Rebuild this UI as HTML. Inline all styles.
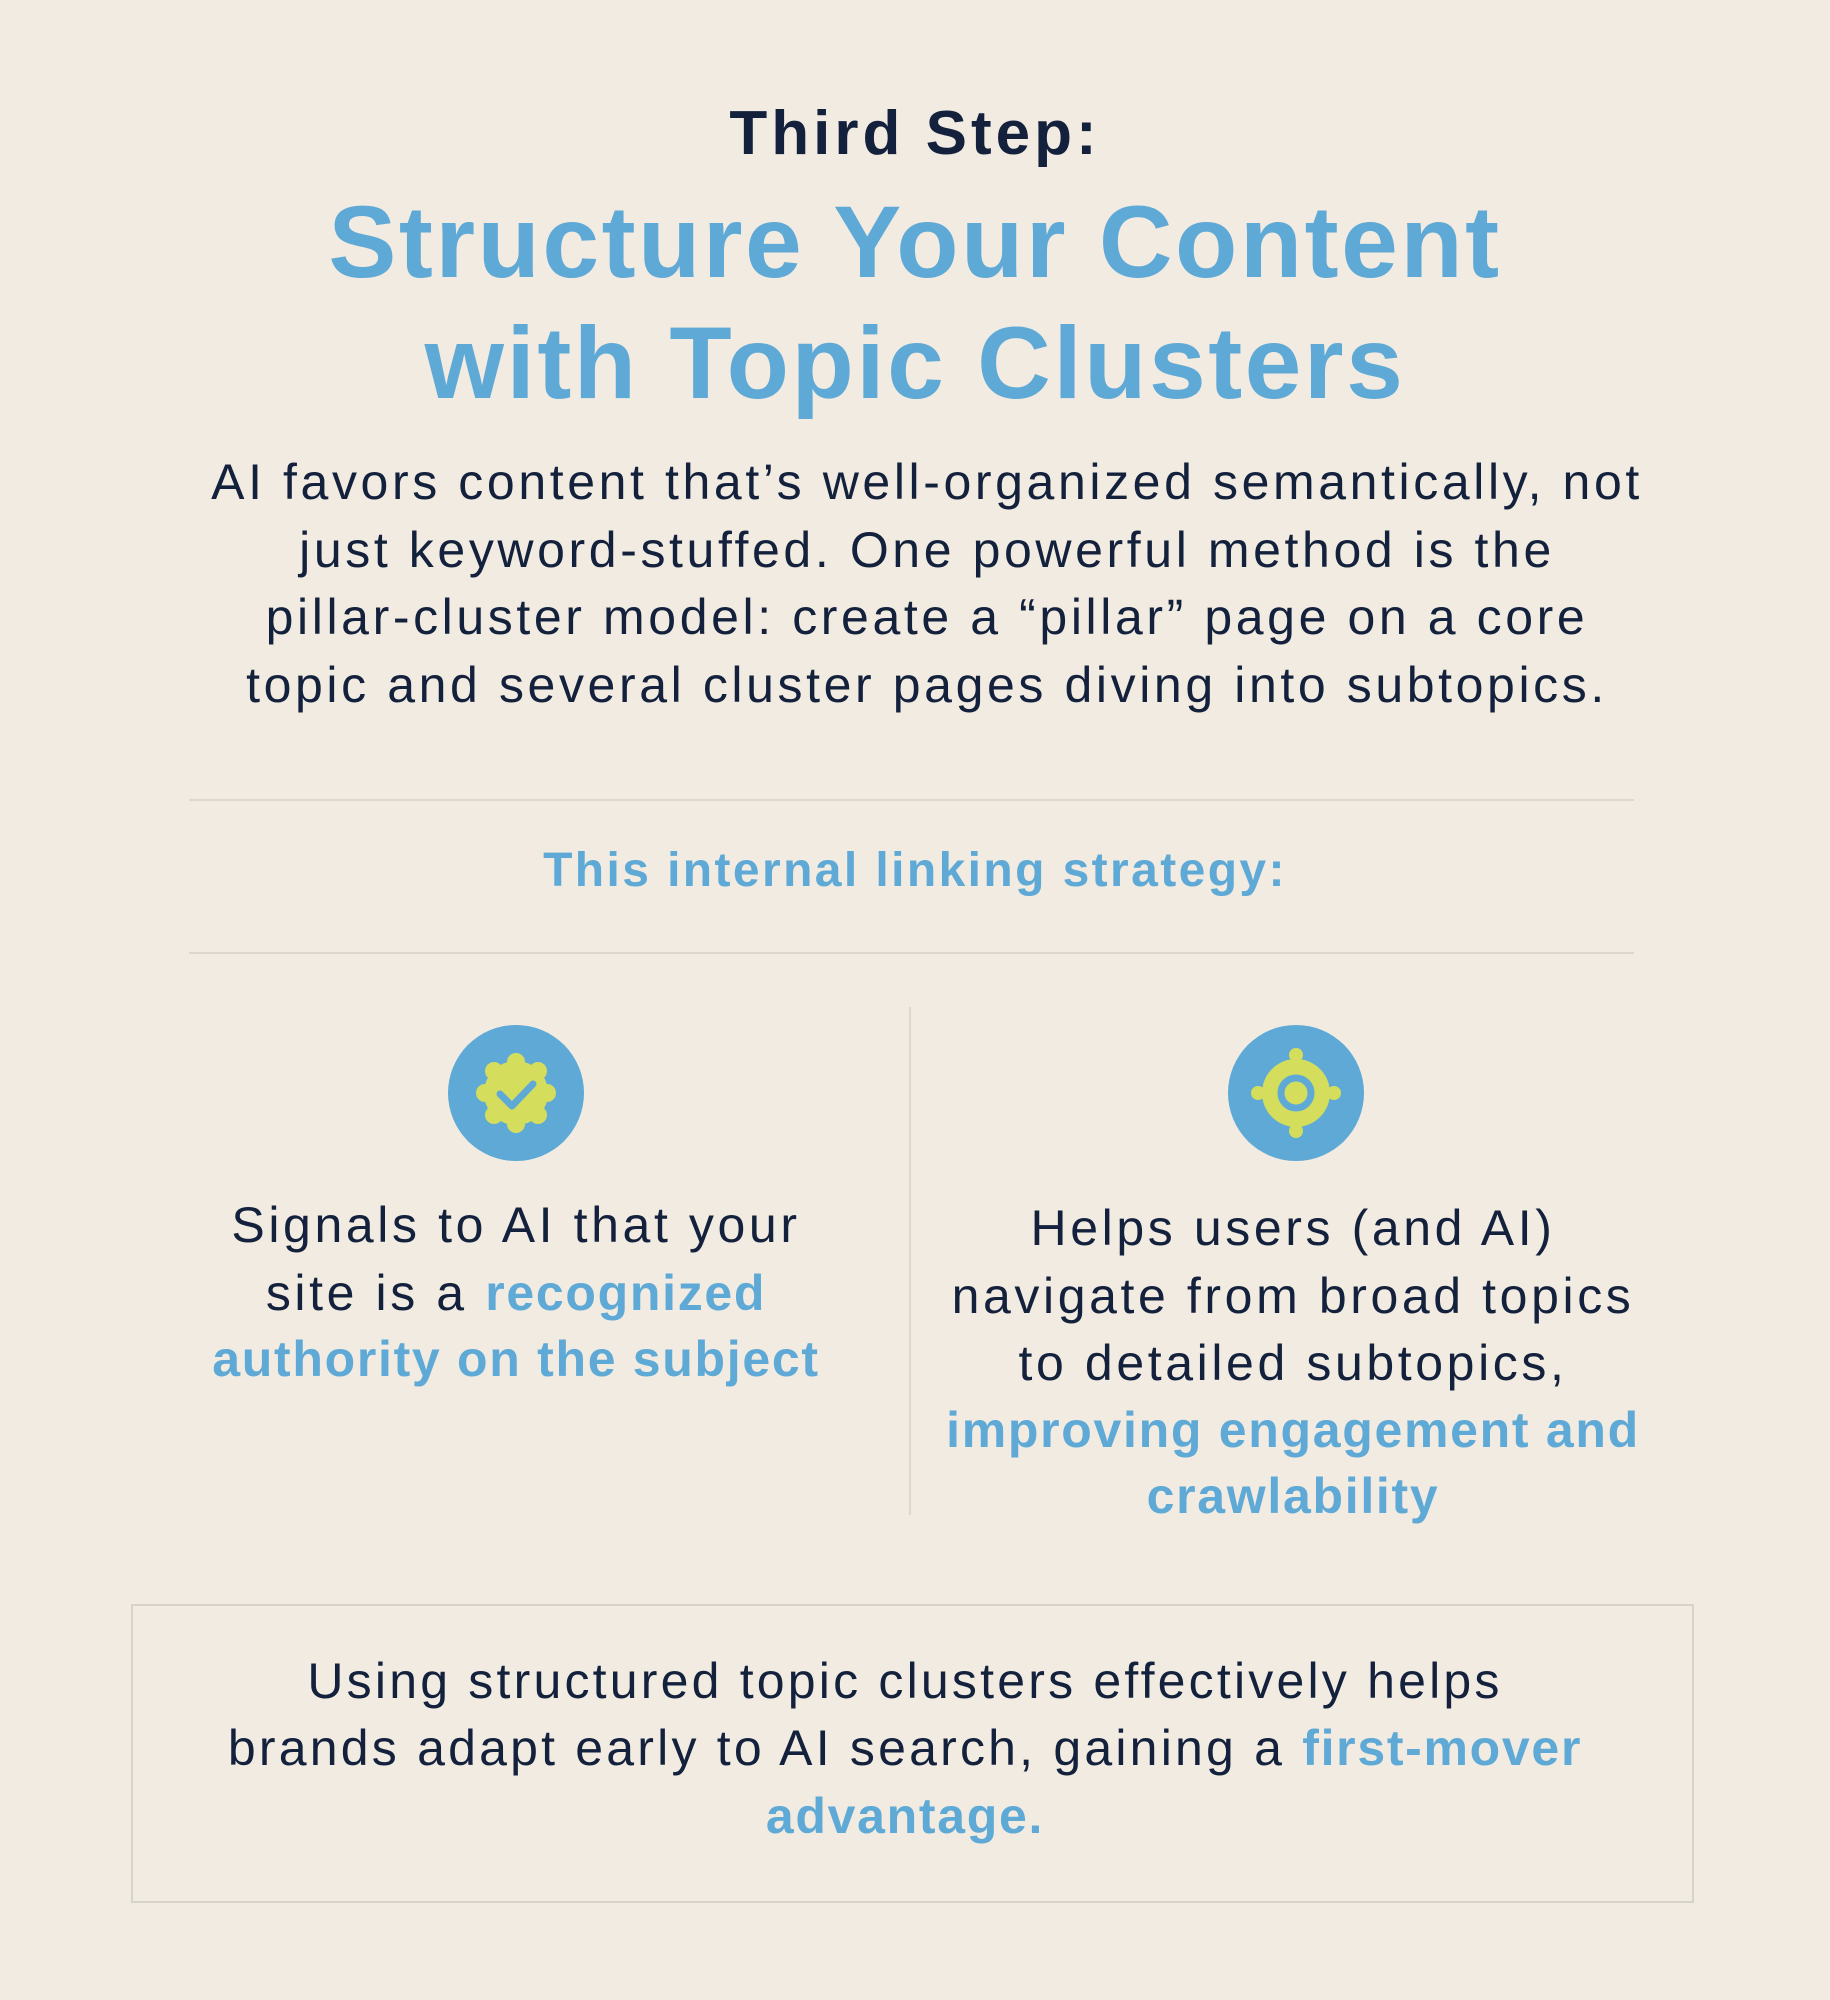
<!DOCTYPE html>
<html><head><meta charset="utf-8"><style>
body{margin:0;width:1830px;height:2000px;background:#f1ebe1;font-family:"Liberation Sans",sans-serif;color:#14213d;position:relative;overflow:hidden}
.l{position:absolute;left:0;width:1830px;text-align:center;white-space:nowrap;height:80px;line-height:80px}
.p{font-size:50px;letter-spacing:3.6px}
.b,.p.b{color:#5fa9d6;font-weight:bold;letter-spacing:1.7px}
.hr{position:absolute;left:189px;width:1445px;height:2px;background:#dcd8cf}
</style></head><body>
<div class="l" style="top:94px;font-size:62px;font-weight:bold;letter-spacing:4px">Third Step:</div>
<div class="l b" style="top:182px;height:120px;line-height:120px;font-size:102px;letter-spacing:2.5px">Structure Your Content</div>
<div class="l b" style="top:303px;height:120px;line-height:120px;font-size:102px;letter-spacing:2.5px">with Topic Clusters</div>
<div class="l p" style="top:442px;left:12px">AI favors content that’s well-organized semantically, not</div>
<div class="l p" style="top:510px;left:12px">just keyword-stuffed. One powerful method is the</div>
<div class="l p" style="top:577px;left:12px">pillar-cluster model: create a “pillar” page on a core</div>
<div class="l p" style="top:645px;left:12px">topic and several cluster pages diving into subtopics.</div>
<div class="hr" style="top:799px"></div>
<div class="l b" style="top:831px;font-size:48px;letter-spacing:2.4px">This internal linking strategy:</div>
<div class="hr" style="top:952px"></div>
<div style="position:absolute;left:909px;top:1007px;width:2px;height:508px;background:#dcd8cf"></div>
<svg style="position:absolute;left:0;top:0" width="1830" height="2000">
<circle cx="516" cy="1093" r="68" fill="#5fa9d6"/>
<g transform="translate(516,1093)" fill="#d4dd5c">
<circle r="32"/>
<circle cx="0" cy="-31" r="9"/><circle cx="0" cy="31" r="9"/><circle cx="-31" cy="0" r="9"/><circle cx="31" cy="0" r="9"/>
<circle cx="22" cy="22" r="9"/><circle cx="-22" cy="22" r="9"/><circle cx="22" cy="-22" r="9"/><circle cx="-22" cy="-22" r="9"/>
</g>
<polyline points="500,1094 512,1106 533,1084" fill="none" stroke="#5fa9d6" stroke-width="7" stroke-linecap="round" stroke-linejoin="round"/>
<circle cx="1296" cy="1093" r="68" fill="#5fa9d6"/>
<g transform="translate(1296,1093)">
<circle r="34" fill="#d4dd5c"/>
<circle cx="0" cy="-38" r="7" fill="#d4dd5c"/><circle cx="0" cy="38" r="7" fill="#d4dd5c"/><circle cx="-38" cy="0" r="7" fill="#d4dd5c"/><circle cx="38" cy="0" r="7" fill="#d4dd5c"/>
<circle r="15" fill="none" stroke="#5fa9d6" stroke-width="7"/>
</g>
</svg>
<div class="l p" style="left:116px;width:800px;top:1185px">Signals to AI that your</div>
<div class="l p" style="left:116px;width:800px;top:1253px">site is a <span class="b">recognized</span></div>
<div class="l p b" style="left:116px;width:800px;top:1319px">authority on the subject</div>
<div class="l p" style="left:893px;width:800px;top:1188px">Helps users (and AI)</div>
<div class="l p" style="left:893px;width:800px;top:1256px">navigate from broad topics</div>
<div class="l p" style="left:893px;width:800px;top:1323px">to detailed subtopics,</div>
<div class="l p b" style="left:893px;width:800px;top:1390px">improving engagement and</div>
<div class="l p b" style="left:893px;width:800px;top:1456px">crawlability</div>
<div style="position:absolute;left:131px;top:1604px;width:1559px;height:295px;border:2px solid #d6d3ca"></div>
<div class="l p" style="left:0;width:1810px;top:1641px;letter-spacing:3.2px">Using structured topic clusters effectively helps</div>
<div class="l p" style="left:0;width:1810px;top:1708px;letter-spacing:3.2px">brands adapt early to AI search, gaining a <span class="b">first-mover</span></div>
<div class="l p b" style="left:0;width:1810px;top:1776px">advantage.</div>
</body></html>
